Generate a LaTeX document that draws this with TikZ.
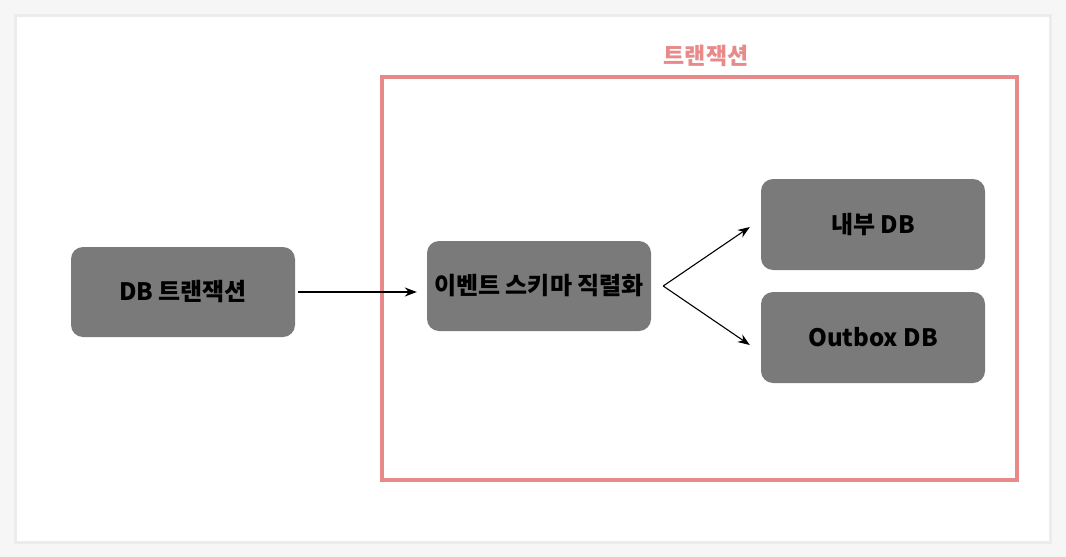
\documentclass[tikz,border=0pt]{standalone}
\usepackage{fontspec}
\setmainfont{Noto Sans CJK KR}
\usetikzlibrary{arrows.meta, positioning, calc}
\definecolor{boxGray}{RGB}{122,122,122}
\definecolor{txRed}{RGB}{232,138,138}
\definecolor{pageGray}{RGB}{246,246,246}
\definecolor{cardEdge}{RGB}{236,236,236}

\begin{document}
\begin{tikzpicture}[x=1pt, y=-1pt,
		blk/.style={fill=boxGray, rounded corners=12pt, minimum width=224pt, minimum height=90pt, inner sep=0pt, text=black, font=\fontsize{24}{27}\selectfont\bfseries},
		arr/.style={-{Stealth[length=12pt, width=9pt]}, line width=1.1pt}]
	% page and card
	\fill[pageGray] (0,0) rectangle (1066,557);
	\draw[cardEdge, line width=3pt, fill=white] (15,15) rectangle (1050,542);
	% transaction frame
	\draw[txRed, line width=4pt] (382,77) rectangle (1017,480);
	\node[text=txRed, font=\fontsize{23}{25}\selectfont\bfseries] (txtitle) at (706,56) {트랜잭션};
	% boxes
	\node[blk] (db) at (183,292) {DB 트랜잭션};
	\node[blk] (ser) at (539,286) {이벤트 스키마 직렬화};
	\node[blk, minimum height=91pt] (inner) at (873,224.5) {내부 DB};
	\node[blk, minimum height=91pt] (outbox) at (873,337.5) {Outbox DB};
	% arrows
	\draw[arr] ([xshift=3pt]db.east) -- ([xshift=-10pt]db.east -| ser.west);
	\coordinate (split) at ([xshift=12pt]ser.east);
	\foreach \dst/\dy in {inner/-2.5, outbox/-7.5} {
		\draw[arr] (split) -- ([xshift=-11pt, yshift=\dy pt]\dst.west);
	}
\end{tikzpicture}
\end{document}
